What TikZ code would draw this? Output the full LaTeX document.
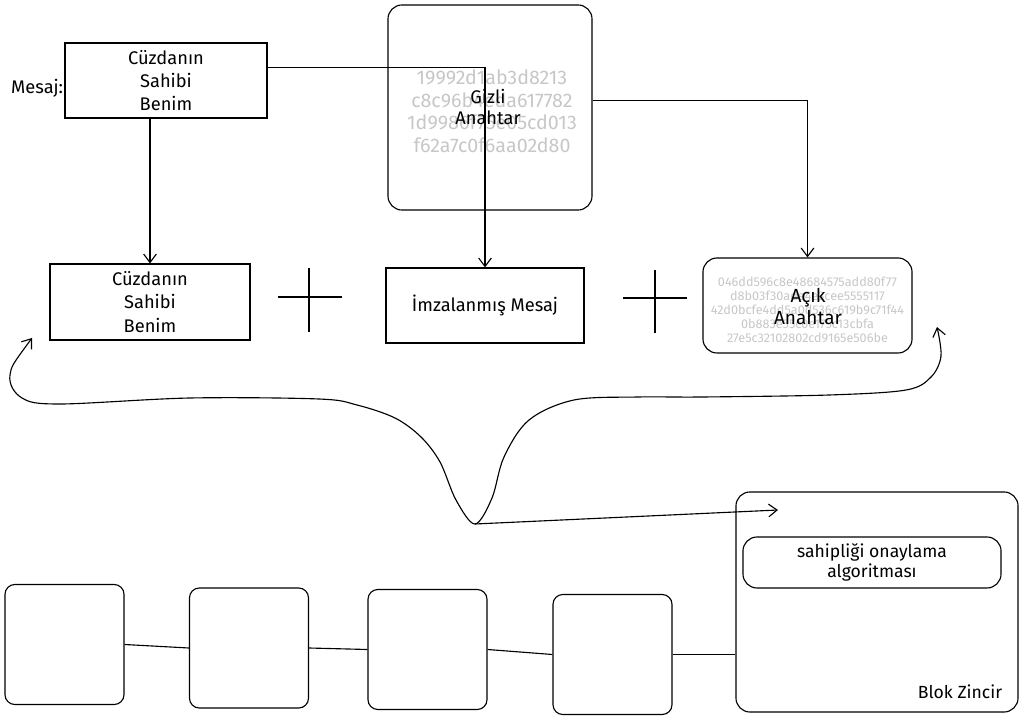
\documentclass[tikz,border=0pt]{standalone}
\usepackage{fontspec}
\setmainfont{Fira Sans}
\usetikzlibrary{arrows.meta}

\begin{document}
\begin{tikzpicture}[x=0.025cm, y=-0.025cm, line width=0.8pt,
  box/.style={draw, inner sep=0pt, align=center, font=\fontsize{13}{16.5}\selectfont},
  rbox/.style={box, rounded corners=10pt},
  cbox/.style={draw, rounded corners=7pt, minimum width=2.975cm, minimum height=3cm},
  hexbig/.style={text=black!22, align=center, font=\fontsize{14}{16}\selectfont},
  hexsmall/.style={text=black!22, align=center, font=\fontsize{9}{10}\selectfont},
  lbl/.style={align=center, font=\fontsize{13}{15}\selectfont},
  link/.style={-{Straight Barb[length=6pt,width=9pt]}},
  twolink/.style={{Straight Barb[length=6pt,width=9pt]}-{Straight Barb[length=6pt,width=9pt]}}
]
\useasboundingbox (0,0) rectangle (1024,720);

\node[box, minimum width=5.05cm, minimum height=1.875cm] (boxA) at (166,80.5) {Cüzdanın\\Sahibi\\Benim};
\node[lbl, anchor=east, inner sep=1pt] (mesaj) at (65,88) {Mesaj:};

\node[rbox, minimum width=5.1cm, minimum height=5.125cm] (gizli) at (490,107.5) {};
\node[hexbig] (gizliHex) at (492,111) {19992d1ab3d8213\\c8c96b4eda617782\\1d9986f75e05cd013\\f62a7c0f6aa02d80};
\node[lbl] (gizliLbl) at (488,107) {Gizli\\Anahtar};

\node[box, minimum width=5.0cm, minimum height=1.9cm] (boxB) at (150,302) {Cüzdanın\\Sahibi\\Benim};
\node[box, minimum width=4.95cm, minimum height=1.875cm] (boxC) at (485,305.5) {İmzalanmış Mesaj};

\node[rbox, minimum width=5.225cm, minimum height=2.375cm] (acik) at (807.5,305.5) {};
\node[hexsmall] (acikHex) at (807.5,310) {046dd596c8e48684575add80f77\\d8b03f30ade4e3cee5555117\\42d0bcfe4dd5a0d536c619b9c71f44\\0b883e55c0e175c13cbfa\\27e5c32102802cd9165e506be};
\node[lbl, font=\fontsize{13.5}{16}\selectfont] (acikLbl) at (808,306.5) {Açık\\Anahtar};

% plus signs
\draw (309,268) -- (309,332);
\draw (278,297) -- (342,297);
\draw (655,270) -- (655,333);
\draw (623,298) -- (687,298);

\draw[link] (boxA.south -| boxB.north) -- (boxB.north);
\draw[link] ([yshift=9pt]boxA.east) -| (boxC.north);
\draw[link] ([yshift=5pt]gizli.east) -| (acik.north);

\coordinate (dip) at (475,524);
\coordinate (tipL) at (32,338);
\coordinate (tipR) at (937,327);
\coordinate (tipM) at (778,510);

\draw[twolink] plot[smooth, tension=0.55] coordinates {(tipL) (10,375) (22,398) (60,404) (190,398) (319,399) (357,405) (395,418) (421,437) (440,462) (456,500) (dip) (492,498) (504,457) (529,420) (574,400) (638,397) (702,397) (829,395) (906,390) (931,377) (941,356) (tipR)};
\draw[link] (dip) -- (tipM);

\node[rbox, minimum width=7.05cm, minimum height=5.5cm] (blok) at (877,602) {};
\node[rbox, minimum width=6.45cm, minimum height=1.275cm, font=\fontsize{12.5}{14.5}\selectfont] (algo) at (872,562.5) {sahipliği onaylama\\algoritması};
\node[lbl, font=\fontsize{12.5}{15}\selectfont] (blokLbl) at (960,692) {Blok Zincir};

\node[cbox] (c1) at (64.5,644.5) {};
\node[cbox] (c2) at (249,648) {};
\node[cbox] (c3) at (427.5,649.5) {};
\node[cbox] (c4) at (612.5,654.5) {};

\draw (c1.east) -- (c2.west);
\draw (c2.east) -- (c3.west);
\draw (c3.east) -- (c4.west);
\draw (c4.east) -- (blok.west |- c4.east);

\end{tikzpicture}
\end{document}
